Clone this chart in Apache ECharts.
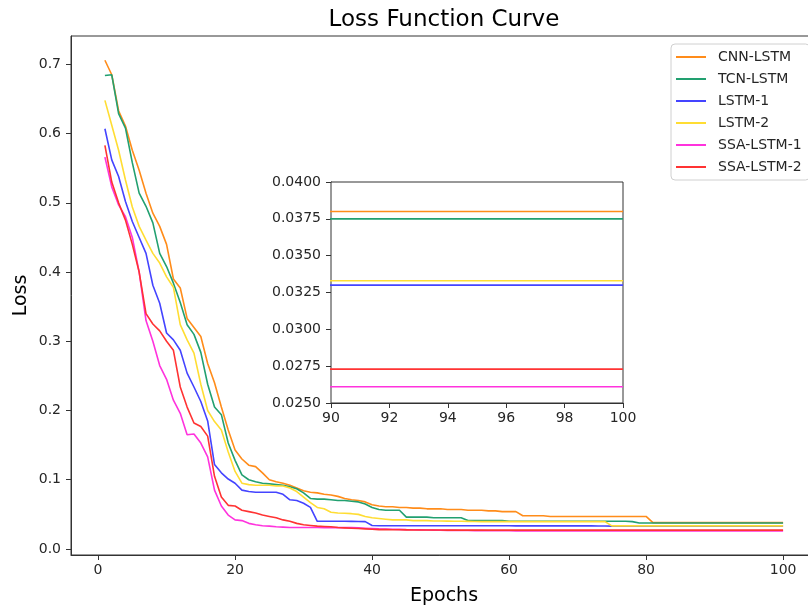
<!DOCTYPE html>
<html>
<head>
<meta charset="utf-8">
<script src="https://cdn.jsdelivr.net/npm/echarts@6/dist/echarts.min.js"></script>
<style>
  html, body { margin: 0; padding: 0; background: #fff; }
  #chart { width: 808px; height: 607px; }
</style>
</head>
<body>
<div id="chart"></div>
<script>
// loss per epoch
const seriesNames = ['CNN-LSTM', 'TCN-LSTM', 'LSTM-1', 'LSTM-2', 'SSA-LSTM-1', 'SSA-LSTM-2']
const seriesColors = ['#ff8c1a', '#22a070', '#4444ff', '#ffdd33', '#ff33dd', '#ff3333']

const epochs = Array.from({ length: 100 }, (_, i) => i + 1)

const cnnLstm = [
  0.706, 0.685, 0.633, 0.611, 0.576, 0.547, 0.514, 0.485, 0.466, 0.440,
  0.390, 0.377, 0.333, 0.320, 0.307, 0.268, 0.240, 0.205, 0.172, 0.143,
  0.130, 0.121, 0.119, 0.110, 0.100, 0.097, 0.095, 0.092, 0.088, 0.084,
  0.082, 0.081, 0.079, 0.078, 0.076, 0.073, 0.071, 0.070, 0.068, 0.064,
  0.062, 0.061, 0.061, 0.060, 0.060, 0.059, 0.059, 0.058, 0.058, 0.058,
  0.057, 0.057, 0.057, 0.056, 0.056, 0.056, 0.055, 0.055, 0.054, 0.054,
  0.054, 0.048, 0.048, 0.048, 0.048, 0.047, 0.047, 0.047, 0.047, 0.047,
  0.047, 0.047, 0.047, 0.047, 0.047, 0.047, 0.047, 0.047, 0.047, 0.047,
  0.038, 0.038, 0.038, 0.038, 0.038, 0.038, 0.038, 0.038, 0.038, 0.038,
  0.038, 0.038, 0.038, 0.038, 0.038, 0.038, 0.038, 0.038, 0.038, 0.038
]
const tcnLstm = [
  0.684, 0.685, 0.629, 0.608, 0.558, 0.514, 0.495, 0.471, 0.427, 0.408,
  0.384, 0.356, 0.324, 0.310, 0.284, 0.238, 0.205, 0.194, 0.153, 0.128,
  0.107, 0.100, 0.097, 0.095, 0.094, 0.093, 0.092, 0.090, 0.087, 0.081,
  0.073, 0.072, 0.072, 0.071, 0.070, 0.070, 0.069, 0.068, 0.065, 0.060,
  0.057, 0.056, 0.056, 0.056, 0.046, 0.046, 0.046, 0.046, 0.045, 0.045,
  0.045, 0.045, 0.045, 0.041, 0.041, 0.041, 0.041, 0.041, 0.041, 0.040,
  0.040, 0.040, 0.040, 0.040, 0.040, 0.040, 0.040, 0.040, 0.040, 0.040,
  0.040, 0.040, 0.040, 0.040, 0.040, 0.040, 0.040, 0.0395, 0.0375, 0.0375,
  0.0375, 0.0375, 0.0375, 0.0375, 0.0375, 0.0375, 0.0375, 0.0375, 0.0375, 0.0375,
  0.0375, 0.0375, 0.0375, 0.0375, 0.0375, 0.0375, 0.0375, 0.0375, 0.0375, 0.0375
]
const lstm1 = [
  0.607, 0.562, 0.538, 0.502, 0.473, 0.450, 0.427, 0.381, 0.355, 0.312,
  0.302, 0.287, 0.254, 0.234, 0.213, 0.185, 0.122, 0.110, 0.101, 0.095,
  0.085, 0.083, 0.082, 0.082, 0.082, 0.082, 0.079, 0.071, 0.070, 0.066,
  0.060, 0.040, 0.040, 0.040, 0.040, 0.040, 0.0398, 0.0396, 0.0395, 0.034,
  0.0336, 0.0336, 0.0336, 0.0336, 0.0336, 0.0336, 0.0336, 0.0336, 0.0336, 0.0336,
  0.0335, 0.0335, 0.0335, 0.0335, 0.0335, 0.0335, 0.0335, 0.0335, 0.0335, 0.0335,
  0.0334, 0.0334, 0.0334, 0.0334, 0.0334, 0.0334, 0.0334, 0.0334, 0.0334, 0.0334,
  0.0333, 0.0333, 0.0332, 0.0331, 0.0330, 0.0330, 0.0330, 0.0330, 0.0330, 0.0330,
  0.0330, 0.0330, 0.0330, 0.0330, 0.0330, 0.0330, 0.0330, 0.0330, 0.0330, 0.0330,
  0.0330, 0.0330, 0.0330, 0.0330, 0.0330, 0.0330, 0.0330, 0.0330, 0.0330, 0.0330
]
const lstm2 = [
  0.648, 0.612, 0.576, 0.533, 0.494, 0.466, 0.446, 0.427, 0.413, 0.393,
  0.378, 0.324, 0.302, 0.283, 0.238, 0.200, 0.184, 0.172, 0.140, 0.112,
  0.095, 0.093, 0.092, 0.092, 0.092, 0.091, 0.091, 0.088, 0.083, 0.075,
  0.067, 0.060, 0.058, 0.053, 0.052, 0.0515, 0.051, 0.050, 0.047, 0.045,
  0.044, 0.043, 0.042, 0.042, 0.042, 0.041, 0.041, 0.041, 0.0405, 0.0404,
  0.0402, 0.0400, 0.0400, 0.0398, 0.0396, 0.0395, 0.0395, 0.0395, 0.0395, 0.0395,
  0.0395, 0.0395, 0.0395, 0.0395, 0.0395, 0.0395, 0.0395, 0.0395, 0.0395, 0.0395,
  0.0395, 0.0395, 0.0395, 0.0395, 0.0333, 0.0333, 0.0333, 0.0333, 0.0333, 0.0333,
  0.0333, 0.0333, 0.0333, 0.0333, 0.0333, 0.0333, 0.0333, 0.0333, 0.0333, 0.0333,
  0.0333, 0.0333, 0.0333, 0.0333, 0.0333, 0.0333, 0.0333, 0.0333, 0.0333, 0.0333
]
const ssaLstm1 = [
  0.566, 0.523, 0.497, 0.480, 0.450, 0.400, 0.330, 0.300, 0.265, 0.245,
  0.215, 0.196, 0.165, 0.166, 0.153, 0.133, 0.085, 0.062, 0.049, 0.042,
  0.041, 0.037, 0.035, 0.0335, 0.033, 0.032, 0.0315, 0.031, 0.031, 0.031,
  0.031, 0.031, 0.0308, 0.0308, 0.0308, 0.0308, 0.0308, 0.0305, 0.030, 0.0295,
  0.029, 0.0288, 0.0285, 0.0283, 0.028, 0.0278, 0.0276, 0.0274, 0.0272, 0.027,
  0.0269, 0.0268, 0.0267, 0.0266, 0.0265, 0.0265, 0.0264, 0.0264, 0.0263, 0.0263,
  0.0262, 0.0262, 0.0262, 0.0262, 0.0262, 0.0262, 0.0262, 0.0262, 0.0262, 0.0262,
  0.0261, 0.0261, 0.0261, 0.0261, 0.0261, 0.0261, 0.0261, 0.0261, 0.0261, 0.0261,
  0.0261, 0.0261, 0.0261, 0.0261, 0.0261, 0.0261, 0.0261, 0.0261, 0.0261, 0.0261,
  0.0261, 0.0261, 0.0261, 0.0261, 0.0261, 0.0261, 0.0261, 0.0261, 0.0261, 0.0261
]
const ssaLstm2 = [
  0.583, 0.530, 0.500, 0.475, 0.440, 0.400, 0.340, 0.325, 0.315, 0.300,
  0.287, 0.234, 0.205, 0.182, 0.177, 0.163, 0.105, 0.075, 0.063, 0.062,
  0.056, 0.054, 0.052, 0.049, 0.047, 0.045, 0.042, 0.040, 0.037, 0.035,
  0.034, 0.033, 0.0325, 0.032, 0.031, 0.0305, 0.030, 0.0295, 0.029, 0.0285,
  0.028, 0.028, 0.0278, 0.0277, 0.0276, 0.0275, 0.0274, 0.0274, 0.0274, 0.0274,
  0.0273, 0.0273, 0.0273, 0.0273, 0.0273, 0.0273, 0.0273, 0.0273, 0.0273, 0.0273,
  0.0273, 0.0273, 0.0273, 0.0273, 0.0273, 0.0273, 0.0273, 0.0273, 0.0273, 0.0273,
  0.0273, 0.0273, 0.0273, 0.0273, 0.0273, 0.0273, 0.0273, 0.0273, 0.0273, 0.0273,
  0.0273, 0.0273, 0.0273, 0.0273, 0.0273, 0.0273, 0.0273, 0.0273, 0.0273, 0.0273,
  0.0273, 0.0273, 0.0273, 0.0273, 0.0273, 0.0273, 0.0273, 0.0273, 0.0273, 0.0273
]
const seriesValues = [cnnLstm, tcnLstm, lstm1, lstm2, ssaLstm1, ssaLstm2]

const mainXTicks = [0, 20, 40, 60, 80, 100]
const mainYTicks = [0, 0.1, 0.2, 0.3, 0.4, 0.5, 0.6, 0.7]

const font = 'DejaVu Sans'
const ink = '#262626'

const mainSeries = seriesValues.map((vals, i) => ({
  name: seriesNames[i],
  type: 'line',
  xAxisIndex: 0,
  yAxisIndex: 0,
  symbol: 'none',
  color: seriesColors[i],
  lineStyle: { width: 1.6 },
  data: epochs.map((e, j) => [e, vals[j]])
}))

// zoomed inset, epochs 90-100
const insetSeries = seriesValues.map((vals, i) => ({
  name: seriesNames[i],
  type: 'line',
  xAxisIndex: 1,
  yAxisIndex: 1,
  symbol: 'none',
  clip: true,
  color: seriesColors[i],
  lineStyle: { width: 1.6 },
  z: 5,
  data: epochs.map((e, j) => [e, vals[j]])
}))

const chart = echarts.init(document.getElementById('chart'))

chart.setOption({
  animation: false,
  backgroundColor: '#fff',
  textStyle: { fontFamily: font },
  graphic: [{
    type: 'text',
    x: 444,
    y: 20,
    style: {
      text: 'Loss Function Curve',
      font: '23px "DejaVu Sans"',
      fill: '#000',
      textAlign: 'center',
      textVerticalAlign: 'middle'
    }
  }],
  legend: {
    data: seriesNames,
    orient: 'vertical',
    left: 671,
    top: 44,
    icon: 'rect',
    itemWidth: 30,
    itemHeight: 2,
    itemGap: 6,
    padding: [5, 8, 5, 5],
    backgroundColor: '#fff',
    borderColor: '#d0d0d0',
    borderWidth: 1,
    borderRadius: 4,
    textStyle: { fontFamily: font, fontSize: 14, color: ink, lineHeight: 16, padding: [0, 0, 0, 7] }
  },
  grid: [
    { left: 71, top: 36, width: 746, height: 519, outerBoundsMode: 'none', show: true, borderColor: '#333', borderWidth: 1 },
    { left: 331, top: 182, width: 292, height: 221, outerBoundsMode: 'none', show: true, borderColor: '#333', borderWidth: 1, backgroundColor: '#fff', z: 4 }
  ],
  xAxis: [
    {
      type: 'value',
      gridIndex: 0,
      min: -3.95,
      max: 104.95,
      name: 'Epochs',
      nameLocation: 'middle',
      nameGap: 32,
      nameMoveOverlap: false,
      nameTextStyle: { fontFamily: font, fontSize: 19, color: '#000' },
      axisLine: { show: true, onZero: false, lineStyle: { color: '#333' } },
      axisTick: { show: true, length: 5, customValues: mainXTicks, lineStyle: { color: '#333' } },
      axisLabel: { customValues: mainXTicks, fontSize: 14, color: ink, margin: 8 },
      splitLine: { show: false }
    },
    {
      type: 'value',
      gridIndex: 1,
      min: 90,
      max: 100,
      interval: 2,
      axisLine: { show: true, onZero: false, lineStyle: { color: '#333' } },
      axisTick: { show: true, length: 5, lineStyle: { color: '#333' } },
      axisLabel: { fontSize: 14, color: ink, margin: 8 },
      splitLine: { show: false }
    }
  ],
  yAxis: [
    {
      type: 'value',
      gridIndex: 0,
      min: -0.0087,
      max: 0.741,
      name: 'Loss',
      nameLocation: 'middle',
      nameGap: 40,
      nameMoveOverlap: false,
      nameTextStyle: { fontFamily: font, fontSize: 19, color: '#000' },
      axisLine: { show: true, onZero: false, lineStyle: { color: '#333' } },
      axisTick: { show: true, length: 5, customValues: mainYTicks, lineStyle: { color: '#333' } },
      axisLabel: { customValues: mainYTicks, fontSize: 14, color: ink, margin: 10, formatter: v => v.toFixed(1) },
      splitLine: { show: false }
    },
    {
      type: 'value',
      gridIndex: 1,
      min: 0.025,
      max: 0.04,
      interval: 0.0025,
      axisLine: { show: true, onZero: false, lineStyle: { color: '#333' } },
      axisTick: { show: true, length: 5, lineStyle: { color: '#333' } },
      axisLabel: { fontSize: 14, color: ink, margin: 10, formatter: v => v.toFixed(4) },
      splitLine: { show: false }
    }
  ],
  series: [...mainSeries, ...insetSeries]
})

window.addEventListener('resize', () => chart.resize())
</script>
</body>
</html>
